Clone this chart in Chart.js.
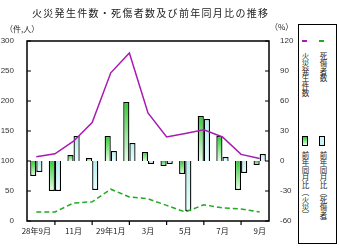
<!DOCTYPE html>
<html>
<head>
<meta charset="utf-8">
<script src="https://cdn.jsdelivr.net/npm/chart.js@4"></script>
<style>
  body { margin: 0; background: #fff; }
  #wrap { position: relative; width: 339px; height: 249px; }
  #titulo { position: absolute; left: 32px; top: 5px; font: 10px "Noto Sans CJK JP";
            letter-spacing: 1.3px; color: #222; white-space: nowrap; }
  .unit { position: absolute; font: 8px "Noto Sans CJK JP"; color: #222; }
  #legend { position: absolute; left: 298px; top: 24px; width: 37px; height: 218px;
            border: 1px solid #000; background: #fff; }
  .col { position: absolute; font: 7.5px "Noto Sans CJK JP"; color: #222;
         writing-mode: vertical-rl; line-height: 8px; }
  .mark { position: absolute; }
</style>
</head>
<body>
<div id="wrap">
  <canvas id="grafico"></canvas>
  <span id="titulo"></span>
  <span class="unit" style="left:5px;top:23px">（件,人）</span>
  <span class="unit" style="left:270px;top:21px">（%）</span>
  <div id="legend"></div>
</div>
<script>
// datos
const titulo = '火災発生件数・死傷者数及び前年同月比の推移';
const meses = ['28年9月', '10月', '11月', '12月', '29年1月', '2月', '3月', '4月', '5月', '6月', '7月', '8月', '9月'];
const incendios = [107, 112, 133, 164, 247, 280, 180, 140, 146, 152, 140, 111, 104];
const victimas = [15, 15, 30, 32, 53, 40, 37, 26, 15, 27, 22, 20, 15];
const incendiosYoY = [-15, -30, 6, 3, 25, 59, 9, -5, -13, 45, 25, -29, -4];
const victimasYoY = [-11, -30, 25, -29, 10, 18, -3, -3, -50, 42, 4, -12, 7];
const ticksIzq = [0, 50, 100, 150, 200, 250, 300];
const ticksDer = [-60, -30, 0, 30, 60, 90, 120];
const nombres = ['火災発生件数', '死傷者数', '前年同月比（火災）', '前年同月比（死傷者）'];

document.getElementById('titulo').textContent = titulo;

const canvas = document.getElementById('grafico');
canvas.width = 339;
canvas.height = 249;

// degradado vertical por barra
function degradado(c1, c2) {
    return (ctx) => {
        const chart = ctx.chart;
        const area = chart.chartArea;
        if (!area || ctx.parsed === undefined) return c1;
        const s = chart.scales.y1;
        const a = s.getPixelForValue(ctx.parsed.y);
        const b = s.getPixelForValue(0);
        const g = chart.ctx.createLinearGradient(0, Math.min(a, b), 0, Math.max(a, b) + 0.1);
        g.addColorStop(0, c1);
        g.addColorStop(1, c2);
        return g;
    };
}

// marco y marcas hacia adentro
const marco = {
    id: 'marco',
    afterDraw(chart) {
        const ctx = chart.ctx;
        const a = chart.chartArea;
        ctx.save();
        ctx.strokeStyle = '#000';
        ctx.lineWidth = 1.5;
        ctx.strokeRect(a.left, a.top, a.right - a.left, a.bottom - a.top);
        ctx.lineWidth = 1.2;
        ctx.beginPath();
        chart.scales.y.ticks.forEach((t, i) => {
            const py = chart.scales.y.getPixelForTick(i);
            ctx.moveTo(a.left, py); ctx.lineTo(a.left + 4, py);
        });
        chart.scales.y1.ticks.forEach((t, i) => {
            const py = chart.scales.y1.getPixelForTick(i);
            ctx.moveTo(a.right, py); ctx.lineTo(a.right - 4, py);
        });
        meses.forEach((m, i) => {
            if (i % 2 === 1) {
                const px = chart.scales.x.getPixelForValue(i);
                ctx.moveTo(px, a.bottom); ctx.lineTo(px, a.bottom + 4);
            }
        });
        ctx.stroke();
        ctx.restore();
    }
};

const fuente = { family: 'Liberation Sans', size: 8 };

new Chart(canvas, {
    type: 'bar',
    data: {
        labels: meses,
        datasets: [
            { type: 'line', label: nombres[0], data: incendios, yAxisID: 'y', order: 0,
              borderColor: '#a61cb0', borderWidth: 1.5, pointRadius: 0, tension: 0 },
            { type: 'line', label: nombres[1], data: victimas, yAxisID: 'y', order: 0,
              borderColor: '#22aa22', borderWidth: 1.5, borderDash: [5, 3], pointRadius: 0, tension: 0 },
            { label: nombres[2], data: incendiosYoY, yAxisID: 'y1', order: 1,
              backgroundColor: degradado('#2ecc2e', '#e6ffe6'), borderColor: '#000', borderWidth: 1.3,
              categoryPercentage: 0.66, barPercentage: 1.0 },
            { label: nombres[3], data: victimasYoY, yAxisID: 'y1', order: 1,
              backgroundColor: degradado('#b4eeee', '#e8ffff'), borderColor: '#000', borderWidth: 1.3,
              categoryPercentage: 0.66, barPercentage: 1.0 }
        ]
    },
    options: {
        responsive: false,
        animation: false,
        layout: { padding: { left: 0, right: 0, top: 41, bottom: 0 } },
        plugins: {
            legend: { display: false },
            tooltip: { enabled: false },
            title: { display: false }
        },
        scales: {
            x: {
                offset: true,
                grid: { display: false },
                border: { display: false },
                ticks: {
                    autoSkip: false, maxRotation: 0, padding: -3, color: '#222',
                    font: { family: 'Noto Sans CJK JP', size: 8 },
                    callback: (v, i) => (i % 2 === 0 ? meses[i] : '')
                },
                afterFit: (s) => { s.height = 28; }
            },
            y: {
                position: 'left',
                min: ticksIzq[0], max: ticksIzq[ticksIzq.length - 1],
                afterBuildTicks: (s) => { s.ticks = ticksIzq.map((v) => ({ value: v })); },
                grid: { display: false },
                border: { display: false },
                ticks: { padding: 5, color: '#333', font: fuente },
                afterFit: (s) => { s.width = 27; }
            },
            y1: {
                position: 'right',
                min: ticksDer[0], max: ticksDer[ticksDer.length - 1],
                afterBuildTicks: (s) => { s.ticks = ticksDer.map((v) => ({ value: v })); },
                grid: { display: false },
                border: { display: false },
                ticks: { padding: 3, color: '#333', font: fuente },
                afterFit: (s) => { s.width = 70; }
            }
        }
    },
    plugins: [marco]
});

// leyenda vertical
const leyenda = document.getElementById('legend');
leyenda.innerHTML =
    '<div class="mark" style="left:3px;top:15px;width:5px;height:1.5px;background:#a61cb0"></div>' +
    '<div class="mark" style="left:20px;top:15px;width:5px;height:1.5px;background:#22aa22"></div>' +
    '<div class="col" style="left:2px;top:27px">' + nombres[0] + '</div>' +
    '<div class="col" style="left:20px;top:27px">' + nombres[1] + '</div>' +
    '<div class="mark" style="left:3px;top:111px;width:4px;height:8px;border:1px solid #000;background:linear-gradient(#2ecc2e,#e6ffe6)"></div>' +
    '<div class="mark" style="left:20px;top:111px;width:4px;height:8px;border:1px solid #000;background:#c8f4f4"></div>' +
    '<div class="col" style="left:2px;top:126px">' + nombres[2] + '</div>' +
    '<div class="col" style="left:20px;top:126px">' + nombres[3] + '</div>';
</script>
</body>
</html>
